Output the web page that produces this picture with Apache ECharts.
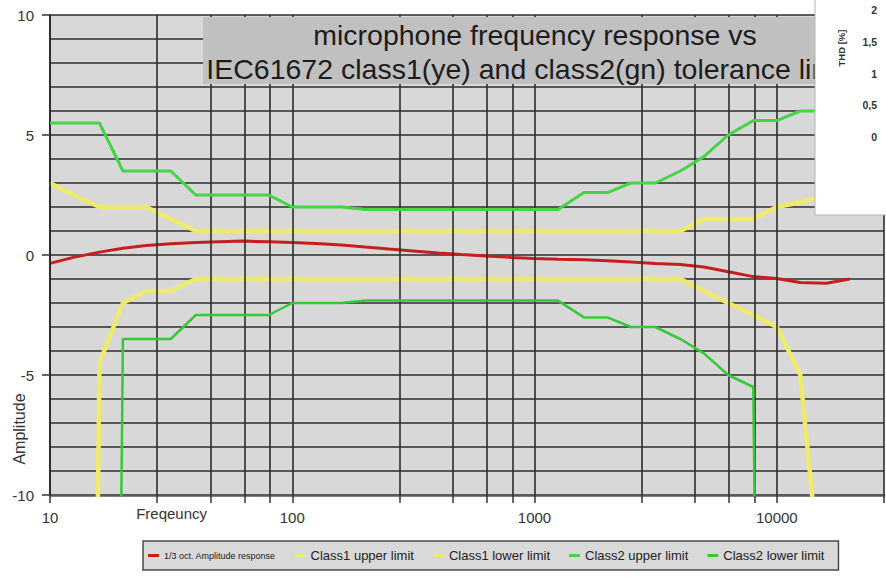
<!DOCTYPE html>
<html><head><meta charset="utf-8">
<script src="https://cdn.jsdelivr.net/npm/echarts@6/dist/echarts.min.js"></script>
<style>html,body{margin:0;padding:0;background:#fff}#c{width:886px;height:580px}</style>
</head><body><div id="c"></div>
<script>
// 1/3-octave band centre frequencies (Hz)
const freqs = [10,12.5,16,20,25,31.5,40,50,63,80,100,125,160,200,250,315,400,500,630,800,1000,1250,1600,2000,2500,3150,4000,5000,6300,8000,10000,12500,16000,20000];
// measured 1/3 octave amplitude response (dB)
const amplitude = [-0.35,-0.1,0.12,0.28,0.4,0.47,0.52,0.55,0.58,0.55,0.52,0.48,0.42,0.33,0.25,0.17,0.08,0.02,-0.04,-0.1,-0.15,-0.18,-0.2,-0.24,-0.29,-0.35,-0.4,-0.5,-0.7,-0.9,-0.98,-1.15,-1.18,-1.0];
// tolerance limits (-100 stands for "minus infinity")
const class1Upper = [3.0,2.5,2.0,2.0,2.0,1.5,1.0,1.0,1.0,1.0,1.0,1.0,1.0,1.0,1.0,1.0,1.0,1.0,1.0,1.0,1.0,1.0,1.0,1.0,1.0,1.0,1.0,1.5,1.5,1.5,2.0,2.2,2.5,3.0];
const class1Lower = [-100,-100,-4.5,-2.0,-1.5,-1.5,-1.0,-1.0,-1.0,-1.0,-1.0,-1.0,-1.0,-1.0,-1.0,-1.0,-1.0,-1.0,-1.0,-1.0,-1.0,-1.0,-1.0,-1.0,-1.0,-1.0,-1.0,-1.5,-2.0,-2.5,-3.0,-5.0,-16,-100];
const class2Upper = [5.5,5.5,5.5,3.5,3.5,3.5,2.5,2.5,2.5,2.5,2.0,2.0,2.0,1.9,1.9,1.9,1.9,1.9,1.9,1.9,1.9,1.9,2.6,2.6,3.0,3.0,3.5,4.1,5.0,5.6,5.6,6.0,6.0,6.0];
const class2Lower = [-100,-100,-100,-3.5,-3.5,-3.5,-2.5,-2.5,-2.5,-2.5,-2.0,-2.0,-2.0,-1.9,-1.9,-1.9,-1.9,-1.9,-1.9,-1.9,-1.9,-1.9,-2.6,-2.6,-3.0,-3.0,-3.5,-4.1,-5.0,-5.5,-100,-100,-100,-100];

const seriesNames = ['1/3 oct. Amplitude response','Class1 upper limit','Class1 lower limit','Class2 upper limit','Class2 lower limit'];
const xTickLabels = [10,100,1000,10000];
const xGridFreqs = [10,27.7,45.9,63.6,81.1,100,277,459,636,811,1000,2770,4590,6360,8110,10000,27700];
const thdTickLabels = ['2','1,5','1','0,5','0'];

const titleText = 'microphone frequency response vs\nIEC61672 class1(ye) and class2(gn) tolerance limits';
const FONT = 'Liberation Sans, Arial, sans-serif';
const GRID_COLOR = '#2c2c2c';

const colors = ['#c81e1e','#eeea6c','#eeea6c','#44d444','#36c836'];
const widths = [3,4.5,4.5,3,2.5];
const values = [amplitude,class1Upper,class1Lower,class2Upper,class2Lower];

const chart = echarts.init(document.getElementById('c'), null, {renderer:'svg'});

const thdTexts = thdTickLabels.map((t,i)=>({
  type:'text', z:101, x:877, y:10 + i*31.75,
  style:{text:t, fill:'#333', font:'bold 10.5px ' + FONT, align:'right', verticalAlign:'middle'}
}));

const legendData = seriesNames.map((n,i)=> i===0
  ? {name:n, textStyle:{fontSize:9}}
  : {name:n, textStyle:{fontSize:13}});

const gridSeries = {
  name:'grid', type:'line', data:[], z:1, silent:true,
  markLine:{
    silent:true, symbol:['none','none'], label:{show:false}, animation:false,
    lineStyle:{color:GRID_COLOR, width:1.6, type:'solid'},
    emphasis:{disabled:true},
    data:xGridFreqs.map(v=>({xAxis:v}))
  }
};

chart.setOption({
  animation:false,
  backgroundColor:'#ffffff',
  title:{
    text:titleText, left:535, top:18, textAlign:'center', z:60, padding:0,
    textStyle:{fontFamily:FONT, fontSize:28.5, fontWeight:'normal', color:'#1c1c1c', lineHeight:34}
  },
  grid:{left:50, right:2, top:15, bottom:85, show:true, backgroundColor:'#d8d8d8', borderWidth:0, outerBoundsMode:'none'},
  legend:{
    data:legendData, left:143, top:541, icon:'rect', itemWidth:11, itemHeight:3, itemGap:19,
    backgroundColor:'#d9d9d9', borderColor:'#4a4a4a', borderWidth:1.5, padding:[8,14,8,5],
    textStyle:{fontFamily:FONT, fontSize:13, color:'#222'}
  },
  xAxis:{
    type:'log', logBase:10, min:10, max:27700,
    name:'Freqeuncy', nameLocation:'start', nameGap:-157,
    nameTextStyle:{fontFamily:FONT, fontSize:15, color:'#333', verticalAlign:'top', padding:[11,0,0,0]},
    axisLine:{show:true, onZero:false, lineStyle:{color:'#5a5a5a', width:2.5}},
    axisTick:{show:true, length:8, customValues:xGridFreqs, lineStyle:{color:'#333', width:1.5}},
    axisLabel:{customValues:xTickLabels, fontFamily:FONT, fontSize:15, color:'#333', margin:15,
      formatter:(v)=>String(Math.round(v))},
    splitLine:{show:false},
    minorTick:{show:false}, minorSplitLine:{show:false}
  },
  yAxis:{
    type:'value', min:-10, max:10, interval:5,
    axisLine:{show:true, onZero:false, lineStyle:{color:'#333', width:2}},
    axisTick:{show:true, length:8, lineStyle:{color:'#333', width:1.5}},
    axisLabel:{fontFamily:FONT, fontSize:15, color:'#333', margin:16},
    splitLine:{show:true, lineStyle:{color:GRID_COLOR, width:1.6}},
    minorTick:{show:false, splitNumber:5},
    minorSplitLine:{show:true, lineStyle:{color:GRID_COLOR, width:1.6}}
  },
  graphic:[
    {type:'rect', z:50, shape:{x:203, y:17, width:683, height:67}, style:{fill:'#c0c0c0'}},
    {type:'text', z:50, x:19, y:429, rotation:Math.PI/2,
      style:{text:'Amplitude', fill:'#333', font:'16px ' + FONT, align:'center', verticalAlign:'middle'}},
    {type:'rect', z:100, shape:{x:815, y:-2, width:75, height:217}, style:{fill:'#ffffff', stroke:'#b4b4b4', lineWidth:1}},
    {type:'text', z:101, x:841, y:48, rotation:Math.PI/2,
      style:{text:'THD [%]', fill:'#333', font:'bold 9.5px ' + FONT, align:'center', verticalAlign:'middle'}}
  ].concat(thdTexts),
  series:[gridSeries].concat(seriesNames.map((n,k)=>({
    name:n, type:'line', symbol:'none', clip:true, z:2+k,
    data:freqs.map((f,i)=>[f, values[k][i]]),
    itemStyle:{color:colors[k]},
    lineStyle:{color:colors[k], width:widths[k]}
  })))
});
</script></body></html>
